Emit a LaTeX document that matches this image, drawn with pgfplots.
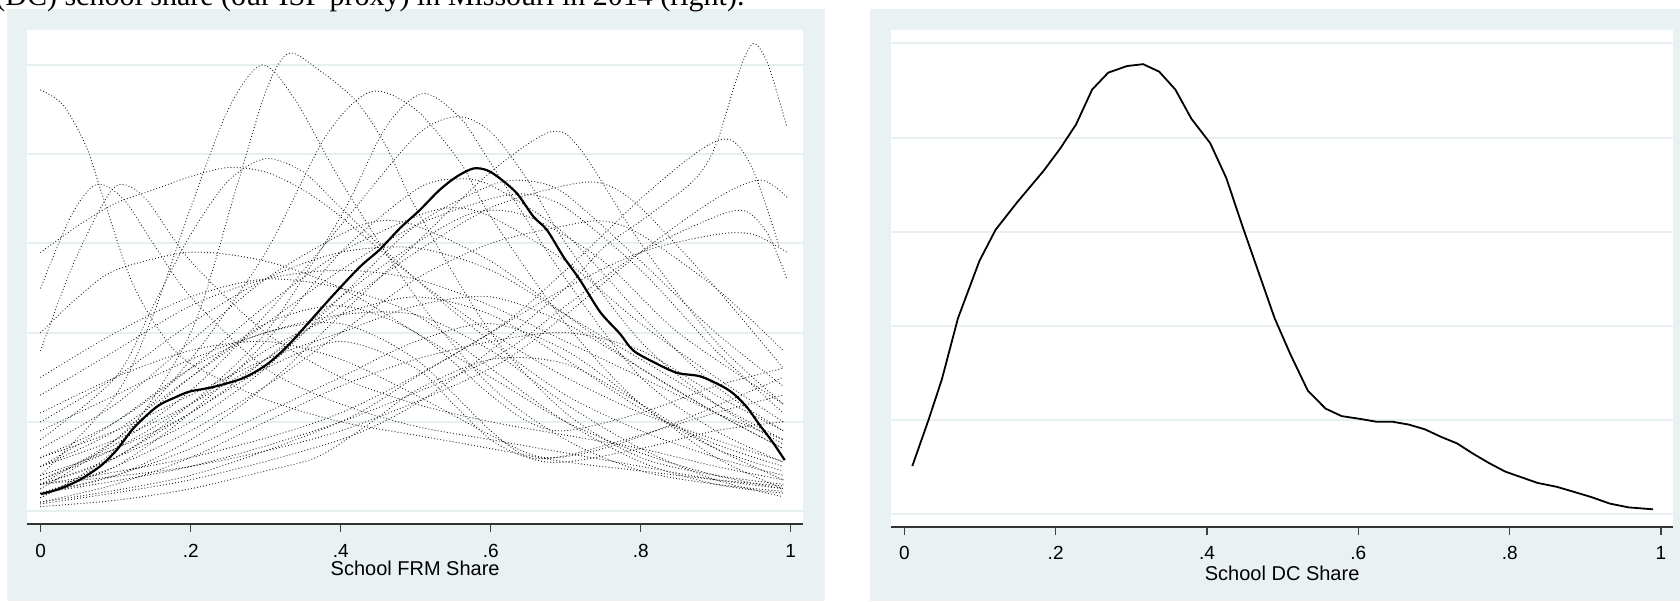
\documentclass[border=0pt]{standalone}
\usepackage{fontspec}
\setmainfont{Liberation Sans}
\newfontfamily\capfont{Liberation Serif}
\usepackage{pgfplots}
\pgfplotsset{compat=1.18}
\definecolor{statabg}{RGB}{233,241,243}
\definecolor{gridc}{RGB}{231,239,241}
\begin{document}
\begin{tikzpicture}
\useasboundingbox (0,0) rectangle (840pt,300.5pt);
\fill[statabg] (3.65pt,0) rectangle (412.5pt,295.85pt);
\fill[statabg] (435pt,0) rectangle (840pt,295.85pt);
\fill[white] (13.5pt,38.5pt) rectangle (401.65pt,285.5pt);
\fill[white] (445.5pt,37.15pt) rectangle (836.65pt,285.5pt);
\begin{scope}
\clip (0,0) rectangle (840pt,300.5pt);
\node[anchor=base west, inner sep=0pt, font=\capfont\fontsize{15}{18}\selectfont] at (-2.5pt,297.5pt) {(DC) school share (our ISP proxy) in Missouri in 2014 (right).};
\end{scope}
\pgfplotsset{stata/.style={scale only axis,
  axis x line*=bottom, axis y line*=left,
  y axis line style={draw=none},
  ytick={0,1,2,3,4,5}, yticklabels={}, ymajorgrids,
  major grid style={gridc, line width=1pt},
  y tick style={draw=none},
  xtick={0,0.2,0.4,0.6,0.8,1}, xticklabels={0,.2,.4,.6,.8,1},
  tick align=outside, major tick length=4pt,
  x tick style={black!75, line width=0.6pt},
  x axis line style={black!80, line width=0.9pt, -},
  xticklabel style={font=\fontsize{9.5}{11}\selectfont, anchor=base, inner sep=0pt},
  /pgf/number format/assume math mode=true,
  xlabel style={font=\fontsize{10}{12}\selectfont, at={(axis description cs:0.5,0)}, anchor=base, inner sep=0pt},
  clip=true},
  dotc/.style={black!90, line width=0.6pt, line cap=round, dash pattern=on 0pt off 1.55pt, smooth}}
% ---------------- left panel ----------------
\begin{axis}[stata, at={(13.5pt,38.5pt)}, anchor=south west,
  width=388.15pt, height=247pt,
  xmin=-0.01827, xmax=1.0168, ymin=-0.1457, ymax=5.392,
  xticklabel style={yshift=-12.75pt},
  xlabel={School FRM Share}, xlabel style={yshift=-25.5pt}]
\addplot[dotc] coordinates {(0,4.72)(0.03,4.55)(0.06,4.1)(0.08,3.6)(0.12,2.6)(0.16,2.0)(0.2,1.65)(0.3,1.25)(0.4,1.0)(0.5,0.85)(0.6,0.7)(0.7,0.55)(0.8,0.45)(0.9,0.35)(0.99,0.28)};
\addplot[dotc] coordinates {(0,0.4)(0.1,1.3)(0.15,2.2)(0.2,3.4)(0.25,4.5)(0.295,5.0)(0.34,4.6)(0.4,3.7)(0.5,2.4)(0.6,1.4)(0.7,0.8)(0.8,0.45)(0.9,0.3)(0.99,0.22)};
\addplot[dotc] coordinates {(0,0.15)(0.1,0.7)(0.2,2.0)(0.26,3.6)(0.3,4.7)(0.33,5.13)(0.37,4.95)(0.42,4.6)(0.46,4.1)(0.5,3.4)(0.6,2.0)(0.7,1.1)(0.8,0.6)(0.9,0.4)(0.99,0.3)};
\addplot[dotc] coordinates {(0,0.25)(0.1,0.8)(0.2,1.7)(0.3,2.9)(0.38,4.2)(0.44,4.7)(0.5,4.5)(0.56,3.9)(0.6,3.3)(0.7,2.1)(0.8,1.2)(0.9,0.7)(0.99,0.45)};
\addplot[dotc] coordinates {(0,0.3)(0.1,0.6)(0.2,1.2)(0.3,2.0)(0.4,3.3)(0.46,4.3)(0.51,4.68)(0.56,4.4)(0.6,3.9)(0.7,2.6)(0.8,1.5)(0.9,0.9)(0.99,0.55)};
\addplot[dotc] coordinates {(0,0.35)(0.1,0.75)(0.2,1.35)(0.3,2.2)(0.4,3.2)(0.5,4.2)(0.555,4.42)(0.6,4.25)(0.65,3.7)(0.7,3.0)(0.8,1.9)(0.9,1.2)(0.99,0.75)};
\addplot[dotc] coordinates {(0,0.2)(0.1,0.4)(0.2,0.8)(0.3,1.4)(0.4,2.2)(0.5,3.0)(0.6,3.8)(0.68,4.25)(0.72,4.05)(0.8,3.0)(0.9,1.9)(0.99,1.2)};
\addplot[dotc] coordinates {(0,0.08)(0.2,0.35)(0.4,0.8)(0.5,1.2)(0.6,1.8)(0.7,2.5)(0.75,2.95)(0.8,3.25)(0.87,3.7)(0.9,4.1)(0.93,4.9)(0.95,5.24)(0.97,5.0)(0.995,4.3)};
\addplot[dotc] coordinates {(0,0.3)(0.2,0.6)(0.4,1.1)(0.6,2.0)(0.7,2.7)(0.8,3.5)(0.88,4.05)(0.92,4.16)(0.95,3.82)(0.985,2.96)};
\addplot[dotc] coordinates {(0,0.3)(0.2,0.5)(0.4,0.9)(0.6,1.6)(0.7,2.2)(0.8,2.9)(0.9,3.5)(0.96,3.71)(0.997,3.5)};
\addplot[dotc] coordinates {(0,0.2)(0.2,0.5)(0.4,1.0)(0.6,1.7)(0.7,2.3)(0.8,2.9)(0.9,3.3)(0.94,3.36)(0.97,3.1)(0.995,2.6)};
\addplot[dotc] coordinates {(0,0.5)(0.1,0.8)(0.2,1.2)(0.3,1.7)(0.4,2.3)(0.5,2.9)(0.6,3.4)(0.7,3.65)(0.75,3.67)(0.8,3.4)(0.9,2.5)(0.99,1.6)};
\addplot[dotc] coordinates {(0,2.5)(0.04,3.3)(0.074,3.66)(0.11,3.5)(0.15,3.0)(0.2,2.4)(0.3,1.6)(0.4,1.2)(0.5,0.95)(0.6,0.8)(0.7,0.65)(0.8,0.5)(0.9,0.35)(0.99,0.25)};
\addplot[dotc] coordinates {(0,1.8)(0.04,2.7)(0.08,3.4)(0.105,3.66)(0.14,3.5)(0.2,2.8)(0.3,2.0)(0.4,1.5)(0.5,1.2)(0.6,1.0)(0.7,0.85)(0.8,0.7)(0.9,0.5)(0.99,0.35)};
\addplot[dotc] coordinates {(0,0.8)(0.1,1.5)(0.15,2.3)(0.2,3.1)(0.25,3.7)(0.3,3.95)(0.35,3.8)(0.4,3.4)(0.5,2.6)(0.6,1.9)(0.7,1.3)(0.8,0.9)(0.9,0.6)(0.99,0.4)};
\addplot[dotc] coordinates {(0,2.9)(0.05,3.2)(0.1,3.45)(0.15,3.6)(0.2,3.75)(0.25,3.85)(0.3,3.8)(0.35,3.6)(0.4,3.3)(0.5,2.6)(0.6,2.0)(0.7,1.5)(0.8,1.1)(0.9,0.8)(0.99,0.55)};
\addplot[dotc] coordinates {(0,0.2)(0.1,0.5)(0.2,1.1)(0.3,1.9)(0.4,2.9)(0.5,3.6)(0.55,3.72)(0.6,3.65)(0.7,3.1)(0.8,2.2)(0.9,1.4)(0.99,0.9)};
\addplot[dotc] coordinates {(0,0.3)(0.1,0.6)(0.2,1.0)(0.3,1.6)(0.4,2.4)(0.5,3.2)(0.6,3.65)(0.65,3.7)(0.7,3.55)(0.8,2.8)(0.9,2.0)(0.99,1.4)};
\addplot[dotc] coordinates {(0,0.5)(0.1,0.9)(0.2,1.5)(0.3,2.1)(0.4,2.7)(0.5,3.2)(0.6,3.5)(0.65,3.55)(0.7,3.4)(0.8,2.7)(0.9,1.8)(0.99,1.1)};
\addplot[dotc] coordinates {(0,0.4)(0.1,0.7)(0.2,1.1)(0.3,1.7)(0.4,2.4)(0.5,3.0)(0.58,3.35)(0.65,3.3)(0.75,2.8)(0.85,2.0)(0.99,1.2)};
\addplot[dotc] coordinates {(0,0.6)(0.1,1.0)(0.2,1.6)(0.3,2.3)(0.4,2.9)(0.5,3.3)(0.55,3.4)(0.6,3.3)(0.7,2.8)(0.8,2.1)(0.9,1.5)(0.99,1.0)};
\addplot[dotc] coordinates {(0,0.7)(0.1,1.2)(0.2,1.9)(0.3,2.6)(0.4,3.1)(0.45,3.25)(0.5,3.2)(0.6,2.8)(0.7,2.2)(0.8,1.6)(0.9,1.1)(0.99,0.7)};
\addplot[dotc] coordinates {(0,0.2)(0.1,0.5)(0.2,0.9)(0.3,1.4)(0.4,2.0)(0.5,2.6)(0.6,3.0)(0.7,3.2)(0.75,3.25)(0.8,3.1)(0.9,2.5)(0.99,1.8)};
\addplot[dotc] coordinates {(0,0.1)(0.2,0.4)(0.4,1.0)(0.5,1.5)(0.6,2.0)(0.7,2.5)(0.8,2.9)(0.9,3.1)(0.95,3.1)(0.995,2.9)};
\addplot[dotc] coordinates {(0,1.0)(0.1,1.5)(0.2,2.1)(0.3,2.6)(0.4,2.9)(0.5,2.95)(0.6,2.7)(0.7,2.2)(0.8,1.7)(0.9,1.2)(0.99,0.8)};
\addplot[dotc] coordinates {(0,1.3)(0.1,1.8)(0.2,2.3)(0.3,2.6)(0.4,2.7)(0.5,2.6)(0.6,2.3)(0.7,1.9)(0.8,1.5)(0.9,1.1)(0.99,0.8)};
\addplot[dotc] coordinates {(0,0.3)(0.1,0.8)(0.2,1.5)(0.3,2.1)(0.4,2.3)(0.5,2.0)(0.6,1.3)(0.65,1.0)(0.7,0.9)(0.8,1.1)(0.9,1.4)(0.99,1.6)};
\addplot[dotc] coordinates {(0,0.5)(0.1,1.0)(0.2,1.6)(0.3,2.0)(0.4,2.1)(0.5,1.7)(0.6,0.9)(0.65,0.6)(0.7,0.55)(0.8,0.7)(0.9,0.9)(0.99,1.0)};
\addplot[dotc] coordinates {(0,0.15)(0.1,0.6)(0.2,1.1)(0.3,1.6)(0.4,1.9)(0.5,1.6)(0.55,1.2)(0.6,0.8)(0.65,0.6)(0.7,0.62)(0.8,0.85)(0.9,1.1)(0.99,1.3)};
\addplot[dotc] coordinates {(0,0.05)(0.1,0.12)(0.2,0.25)(0.3,0.45)(0.37,0.61)(0.44,0.99)(0.5,1.35)(0.6,1.7)(0.7,1.65)(0.8,1.2)(0.9,0.7)(0.99,0.35)};
\addplot[dotc] coordinates {(0,0.2)(0.1,0.4)(0.2,0.7)(0.3,1.1)(0.4,1.5)(0.5,1.9)(0.6,2.1)(0.7,1.8)(0.8,1.2)(0.9,0.6)(0.99,0.25)};
\addplot[dotc] coordinates {(0,0.9)(0.1,1.3)(0.2,1.7)(0.3,2.0)(0.4,2.2)(0.5,2.2)(0.6,1.8)(0.7,1.2)(0.8,0.7)(0.9,0.35)(0.99,0.16)};
\addplot[dotc] coordinates {(0,1.5)(0.1,2.0)(0.2,2.4)(0.3,2.6)(0.4,2.5)(0.5,2.2)(0.6,1.6)(0.7,1.0)(0.8,0.55)(0.9,0.3)(0.99,0.2)};
\addplot[dotc] coordinates {(0,0.6)(0.1,0.9)(0.2,1.3)(0.3,1.7)(0.4,2.0)(0.5,2.3)(0.6,2.4)(0.7,2.1)(0.8,1.6)(0.9,1.1)(0.99,0.7)};
\addplot[dotc] coordinates {(0,2.0)(0.05,2.4)(0.1,2.7)(0.2,2.9)(0.3,2.8)(0.4,2.5)(0.5,2.0)(0.6,1.5)(0.7,1.0)(0.8,0.65)(0.9,0.4)(0.99,0.25)};
\addplot[dotc] coordinates {(0,0.35)(0.1,0.7)(0.2,1.2)(0.3,1.8)(0.4,2.2)(0.5,2.4)(0.6,2.2)(0.7,1.7)(0.8,1.15)(0.9,0.75)(0.99,0.5)};
\addplot[dotc] coordinates {(0,1.1)(0.1,1.5)(0.2,1.8)(0.3,1.9)(0.4,1.7)(0.5,1.3)(0.6,0.85)(0.67,0.6)(0.75,0.7)(0.85,1.0)(0.99,1.5)};
\addplot[dotc] coordinates {(0,0.1)(0.1,0.3)(0.2,0.6)(0.3,1.0)(0.4,1.4)(0.5,1.7)(0.6,1.9)(0.7,2.0)(0.8,1.8)(0.9,1.3)(0.99,0.9)};
% solid: all years pooled
\addplot[black, line width=1.1pt, smooth] coordinates {(0,0.19)(0.026,0.25)(0.052,0.35)(0.079,0.5)(0.101,0.68)(0.124,0.93)(0.155,1.17)(0.181,1.28)(0.199,1.34)(0.23,1.39)(0.27,1.49)(0.301,1.64)(0.328,1.84)(0.355,2.09)(0.39,2.42)(0.426,2.74)(0.452,2.93)(0.479,3.17)(0.505,3.37)(0.532,3.6)(0.555,3.75)(0.577,3.84)(0.595,3.82)(0.612,3.73)(0.635,3.56)(0.657,3.3)(0.675,3.15)(0.697,2.85)(0.719,2.59)(0.746,2.23)(0.772,1.99)(0.79,1.8)(0.817,1.67)(0.848,1.55)(0.879,1.51)(0.906,1.41)(0.923,1.32)(0.941,1.17)(0.959,0.96)(0.977,0.76)(0.992,0.57)};
\end{axis}
% ---------------- right panel ----------------
\begin{axis}[stata, at={(445.5pt,37.15pt)}, anchor=south west,
  width=391.15pt, height=248.35pt,
  xmin=-0.01758, xmax=1.01626, ymin=-0.135, ymax=5.143,
  xticklabel style={yshift=-12.25pt},
  xlabel={School DC Share}, xlabel style={yshift=-26.65pt}]
\addplot[black, line width=0.9pt] coordinates {(0.0106,0.51)(0.032,1.0)(0.0496,1.43)(0.0709,2.08)(0.0993,2.69)(0.1206,3.02)(0.1489,3.31)(0.1844,3.65)(0.2057,3.88)(0.227,4.14)(0.2482,4.51)(0.2695,4.69)(0.2943,4.76)(0.3156,4.78)(0.3369,4.70)(0.3582,4.51)(0.3794,4.20)(0.4043,3.94)(0.4255,3.57)(0.4468,3.06)(0.4681,2.57)(0.4894,2.08)(0.5106,1.69)(0.5333,1.31)(0.5567,1.12)(0.578,1.04)(0.6028,1.01)(0.6241,0.98)(0.6454,0.98)(0.6667,0.95)(0.6879,0.90)(0.7092,0.82)(0.7305,0.75)(0.7518,0.64)(0.773,0.54)(0.7943,0.45)(0.8156,0.39)(0.8369,0.33)(0.8617,0.29)(0.883,0.24)(0.9078,0.18)(0.9326,0.11)(0.9574,0.07)(0.9894,0.05)};
\end{axis}
\end{tikzpicture}
\end{document}
